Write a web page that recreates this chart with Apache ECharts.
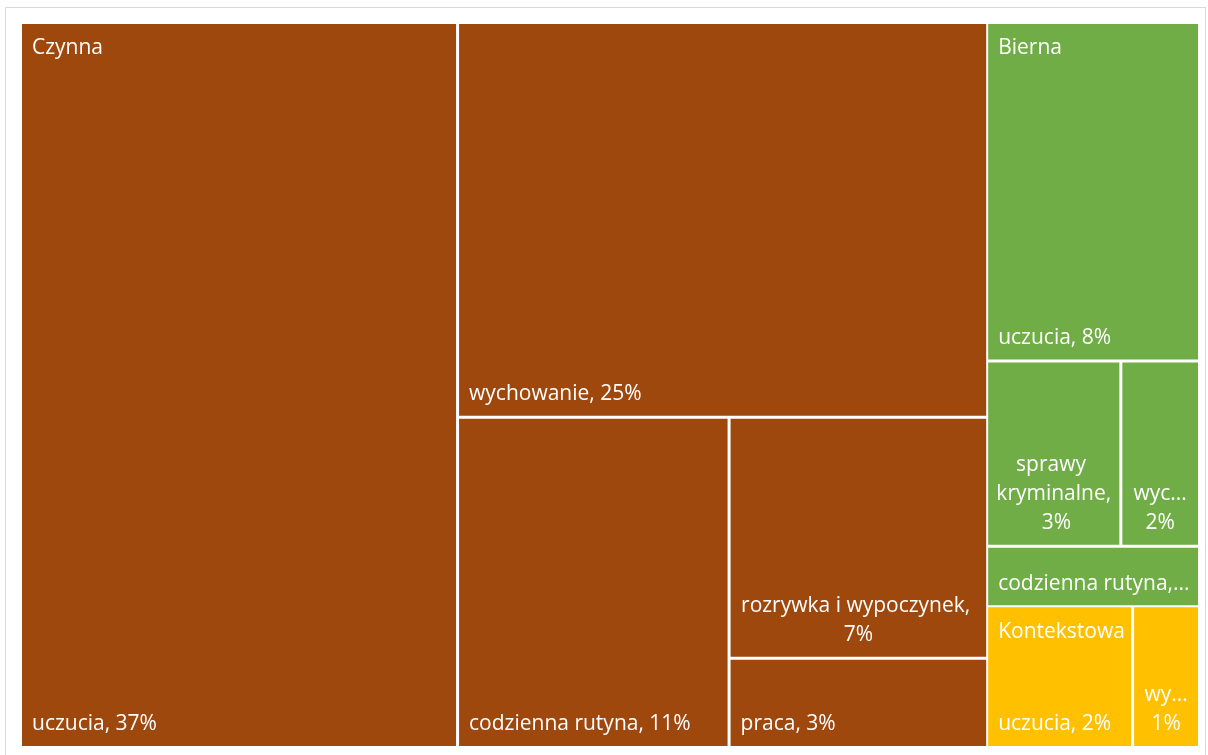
<!DOCTYPE html>
<html>
<head>
<meta charset="utf-8">
<script src="https://cdn.jsdelivr.net/npm/echarts@6/dist/echarts.min.js"></script>
<style>
  html, body { margin: 0; padding: 0; background: #ffffff; }
  #frame { position: absolute; left: 5px; top: 7px; width: 1201px; height: 780px; border: 1px solid #d9d9d9; box-sizing: border-box; }
  #chart { position: absolute; left: 0; top: 0; width: 1208px; height: 755px; }
</style>
</head>
<body>
<div id="frame"></div>
<div id="chart"></div>
<script>
// ---------- data ----------
const groupNames  = ['Czynna', 'Bierna', 'Kontekstowa'];
const groupColors = ['#9E480E', '#70AD47', '#FFC000'];

const czynnaCategories = ['uczucia', 'wychowanie', 'codzienna rutyna', 'rozrywka i wypoczynek', 'praca'];
const czynnaValues     = [37.1, 24.5, 10.5, 7.3, 2.7];

const biernaCategories = ['uczucia', 'sprawy kryminalne', 'wychowanie', 'codzienna rutyna'];
const biernaValues     = [8.4, 2.9, 1.7, 1.5];

const kontekstowaCategories = ['uczucia', 'wychowanie'];
const kontekstowaValues     = [2.4, 1.1];

// ---------- styles ----------
const FONT = 'Open Sans';
const labelBase = { show: true, color: '#ffffff', fontFamily: FONT, fontSize: 21, lineHeight: 29, distance: 0 };
const labelModes = {
  left:  { position: 'insideBottomLeft', align: 'left',   padding: [0, 3, 7, 10], overflow: 'truncate',
           formatter: p => p.name + ', ' + Math.round(p.value) + '%' },
  wrap:  { position: 'insideBottom',     align: 'center', padding: [0, 6, 7, 6],  overflow: 'break',
           formatter: p => p.name + ', ' + Math.round(p.value) + '%' },
  stack: { position: 'insideBottom',     align: 'center', padding: [0, 8, 7, 8],  overflow: 'truncate',
           formatter: p => p.name + ',\n' + Math.round(p.value) + '%' }
};
// which leaves get a wrapped / stacked label (everything else: bottom-left, one line)
const labelModeOf = {
  'Czynna|rozrywka i wypoczynek': 'wrap',
  'Bierna|sprawy kryminalne': 'wrap',
  'Bierna|wychowanie': 'stack',
  'Kontekstowa|wychowanie': 'stack'
};

const groupCats = [czynnaCategories, biernaCategories, kontekstowaCategories];
const groupVals = [czynnaValues, biernaValues, kontekstowaValues];

// overlay = false: coloured cells with leaf labels; overlay = true: transparent cells with group titles
function buildTree(overlay) {
  const clear = 'rgba(0,0,0,0)';
  return groupNames.map((g, gi) => {
    const color = overlay ? clear : groupColors[gi];
    const leaves = groupCats[gi].map((name, i) => {
      let label;
      if (overlay) {
        label = i === 0
          ? Object.assign({}, labelBase, { position: 'insideTopLeft', align: 'left', padding: [10, 0, 0, 10], overflow: 'none', formatter: g })
          : { show: false };
      } else {
        const mode = labelModeOf[g + '|' + name] || 'left';
        label = Object.assign({}, labelBase, labelModes[mode]);
      }
      return { name: name, value: groupVals[gi][i], itemStyle: { color: color, borderColor: overlay ? clear : '#ffffff' }, label: label };
    });
    let children = leaves;
    if (gi === 1) {
      // 'sprawy kryminalne' and 'wychowanie' share one row inside "Bierna"
      children = [leaves[0], {
        name: '', children: [leaves[1], leaves[2]],
        itemStyle: { color: color, borderWidth: 0, gapWidth: 3, borderColor: overlay ? clear : '#ffffff' }
      }, leaves[3]];
    }
    return { name: g, children: children, itemStyle: { color: color, borderColor: overlay ? clear : '#ffffff' } };
  });
}

function makeSeries(overlay) {
  const bc = overlay ? 'rgba(0,0,0,0)' : '#ffffff';
  return {
    type: 'treemap',
    left: 22, top: 24, width: 1176, height: 722,
    roam: false, nodeClick: false, silent: true,
    squareRatio: 1,
    visibleMin: 0,
    breadcrumb: { show: false },
    upperLabel: { show: false },
    z: overlay ? 3 : 2,
    itemStyle: { borderColor: bc, borderWidth: 0, gapWidth: 0 },
    levels: [
      { itemStyle: { borderColor: bc, borderWidth: 0, gapWidth: 2 } },
      { itemStyle: { borderColor: bc, borderWidth: 0, gapWidth: 3 } },
      { itemStyle: { borderColor: bc, borderWidth: 0, gapWidth: 3 } },
      { itemStyle: { borderColor: bc, borderWidth: 0, gapWidth: 3 } }
    ],
    data: buildTree(overlay)
  };
}

const chart = echarts.init(document.getElementById('chart'), null, { renderer: 'canvas' });
chart.setOption({
  animation: false,
  backgroundColor: 'transparent',
  tooltip: { show: false },
  series: [makeSeries(false), makeSeries(true)]
});
</script>
</body>
</html>
